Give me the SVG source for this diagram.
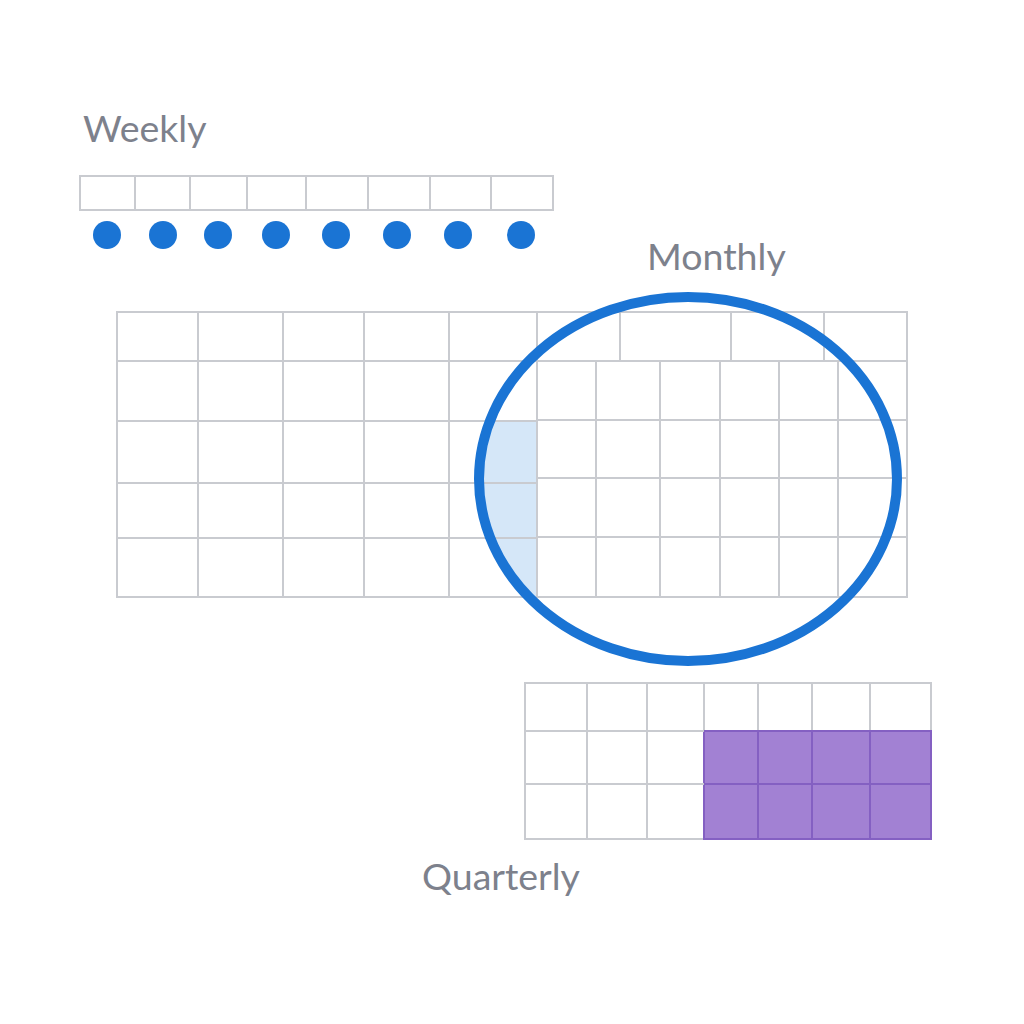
<svg xmlns="http://www.w3.org/2000/svg" width="1024" height="1024" viewBox="0 0 1024 1024">
<style>
.lbl{font-family:Lato,"Open Sans","Liberation Sans",sans-serif;font-size:37.5px;fill:#7d818c}
.grid{fill:#ffffff;stroke:#c9cbd0;stroke-width:2}
.gl{stroke:#c9cbd0;stroke-width:2;fill:none}
.dot{fill:#1a74d4}
.pur{fill:#a281d3;stroke:#8460c2;stroke-width:2}
</style>
<defs>
<clipPath id="ellClip"><ellipse cx="688" cy="479" rx="209" ry="182"/></clipPath>
</defs>
<rect width="1024" height="1024" fill="#ffffff"/>

<g id="weekly">
<text class="lbl" x="83" y="142">Weekly</text>
<rect class="grid" x="80" y="176" width="473" height="34"/>
<path class="gl" d="M135 176V210M190 176V210M247 176V210M306 176V210M368 176V210M430 176V210M491 176V210"/>
<circle class="dot" cx="107" cy="235" r="14"/>
<circle class="dot" cx="163" cy="235" r="14"/>
<circle class="dot" cx="218" cy="235" r="14"/>
<circle class="dot" cx="276" cy="235" r="14"/>
<circle class="dot" cx="336" cy="235" r="14"/>
<circle class="dot" cx="397" cy="235" r="14"/>
<circle class="dot" cx="458" cy="235" r="14"/>
<circle class="dot" cx="521" cy="235" r="14"/>
</g>

<g id="monthly">
<text class="lbl" x="647" y="270">Monthly</text>
<rect class="grid" x="117" y="312" width="790" height="285"/>
<rect x="449" y="421" width="88" height="176" fill="#d5e7f8" clip-path="url(#ellClip)"/>
<path class="gl" d="M117 361H907M117 421H537M117 483H537M117 538H537M537 420H907M537 478H907M537 537H907"/>
<path class="gl" d="M198 312V597M283 312V597M364 312V597M449 312V597M537 312V597M620 312V361M731 312V361M824 312V361M596 361V597M660 361V597M720 361V597M779 361V597M838 361V597"/>
<ellipse cx="688" cy="479" rx="209" ry="182" fill="none" stroke="#1a74d4" stroke-width="10"/>
</g>

<g id="quarterly">
<rect class="grid" x="525" y="683" width="406" height="156"/>
<rect class="pur" x="704" y="731" width="227" height="108"/>
<path class="gl" d="M525 731H704M525 784H704M587 683V839M647 683V839M704 683V731M758 683V731M812 683V731M870 683V731"/>
<path d="M704 731H931M704 784H931M758 731V839M812 731V839M870 731V839" stroke="#8460c2" stroke-width="2" fill="none"/>
<text class="lbl" x="422" y="890">Quarterly</text>
</g>
</svg>
